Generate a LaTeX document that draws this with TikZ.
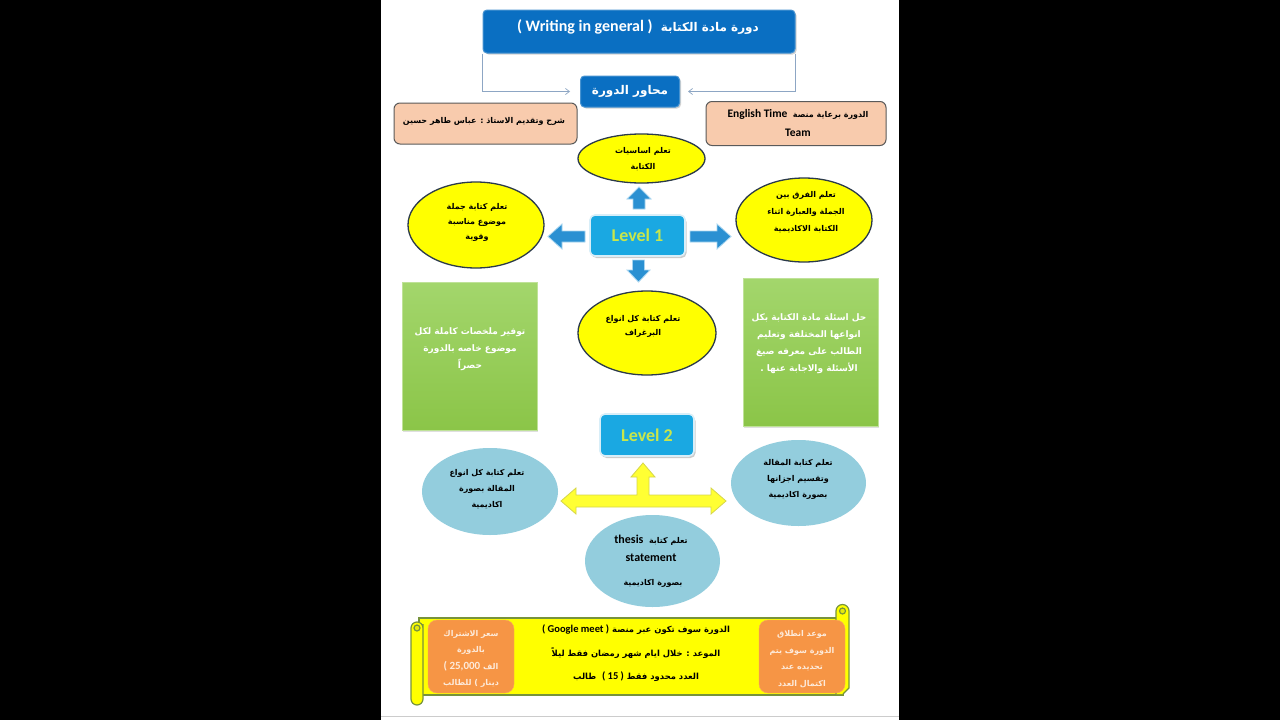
\documentclass[tikz,border=0pt]{standalone}
\usepackage{fontspec}
\setmainfont{Carlito}
\newfontfamily\ar[Script=Arabic]{DejaVu Sans}
\newfontfamily\lat{Carlito}
\TeXXeTstate=1
\usetikzlibrary{shadows,arrows.meta,shapes.geometric}
\definecolor{titleblue}{HTML}{0A6FC2}
\definecolor{linegray}{HTML}{8DA6C4}
\definecolor{peach}{HTML}{F8CBAD}
\definecolor{peachborder}{HTML}{5A5A5A}
\definecolor{ellyellow}{HTML}{FFFF00}
\definecolor{ellborder}{HTML}{2B3A4A}
\definecolor{levelblue}{HTML}{1AA8E2}
\definecolor{levelborder}{HTML}{D8EEF8}
\definecolor{leveltext}{HTML}{C8E64C}
\definecolor{arrblue}{HTML}{2A90D2}
\definecolor{arrborder}{HTML}{A8D5F0}
\definecolor{greenbot}{HTML}{8BC548}
\definecolor{greentop}{HTML}{A3D66C}
\definecolor{lightblue}{HTML}{93CDDD}
\definecolor{arryellow}{HTML}{FFFF33}
\definecolor{arryedge}{HTML}{D6D64A}
\definecolor{scrollgreen}{HTML}{77933C}
\definecolor{orangebox}{HTML}{F69545}
\definecolor{orangetext}{HTML}{FDEADA}
\newcommand\RL[1]{\beginR #1\endR}
\newcommand\LR[2]{{\lat\bfseries\fontsize{#1}{#1}\selectfont #2}}
\begin{document}
\begin{tikzpicture}[x=1pt,y=-1pt,
  titlebox/.style={draw=titleblue!75!white, line width=1pt, fill=titleblue, rounded corners=4pt,
    drop shadow={opacity=0.35,shadow xshift=1.5pt,shadow yshift=-1.5pt}, text=white, inner sep=0},
  peachbox/.style={draw=peachborder, line width=1pt, fill=peach, rounded corners=6pt, inner sep=0},
  yell/.style={ellipse, draw=ellborder, line width=1.3pt, fill=ellyellow, inner sep=0},
  levelbox/.style={rounded corners=5pt, draw=levelborder, line width=1.6pt, fill=levelblue,
    drop shadow={opacity=.4, shadow xshift=1.5pt,shadow yshift=-2pt}, text=leveltext,
    font=\lat\bfseries\fontsize{18}{20}\selectfont, inner sep=0},
  greenbox/.style={top color=greentop, bottom color=greenbot, draw=greentop!70!white, line width=0.8pt,
    drop shadow={opacity=.25, shadow xshift=1pt,shadow yshift=-1.5pt}, inner sep=0},
  bluearr/.style={fill=arrblue, draw=arrborder, line width=0.8pt},
  yelarr/.style={fill=arryellow, draw=arryedge, line width=0.8pt},
  lblue/.style={ellipse, fill=lightblue, inner sep=0},
  scroll/.style={fill=ellyellow, draw=scrollgreen, line width=1.2pt},
  orbox/.style={fill=orangebox, draw=orangebox!85!white, rounded corners=9pt, inner sep=0},
  artxt/.style={font=\ar\bfseries\fontsize{8}{#1}\selectfont, align=center, inner sep=0},
  artxt/.default=17,
  conn/.style={draw=linegray, line width=0.7pt, -{Straight Barb[length=4pt,width=6pt]}}
]
\useasboundingbox (0,0) rectangle (1280,720);
\fill[black] (0,0) rectangle (1280,720);
\fill[white] (381,0) rectangle (899,720);
\draw[black!20, line width=1pt] (381,716) -- (899,716);

% title and axes
\node[titlebox, minimum width=312, minimum height=43] (title) at (639,31.5) {};
\node[text=white, font=\ar\bfseries\fontsize{12}{14}\selectfont, inner sep=0] (titlet) at (638,27)
  {\LR{16}{( Writing in general )}\ \ \RL{دورة مادة الكتابة}};
\node[titlebox, minimum width=99, minimum height=31, font=\ar\bfseries\fontsize{12}{14}\selectfont] (axes) at (630,91.5)
  {\RL{محاور الدورة}};
\draw[conn, shorten >=10pt] (title.south west) |- (axes.west);
\draw[conn, shorten >=8pt] (title.south east) |- (axes.east);

% peach boxes
\node[peachbox, minimum width=183, minimum height=41] (peachL) at (485.5,123.5) {};
\node[artxt] (peachLt) at (484,121) {\RL{شرح وتقديم الاستاذ : عباس طاهر حسين}};
\node[peachbox, minimum width=180, minimum height=44] (peachR) at (796,123.5) {};
\node[artxt=19] (peachRt) at (798,123.5) {\LR{11.5}{English Time}\ \ \RL{الدورة برعاية منصة}\\\LR{11.5}{Team}};

% yellow ellipses
\node[yell, minimum width=127, minimum height=49] (e1) at (641.5,158.5) {};
\node[artxt=16] (e1t) at (643,159) {\RL{تعلم اساسيات}\\\RL{الكتابة}};
\node[yell, minimum width=136, minimum height=86] (e2) at (476,225) {};
\node[artxt=15] (e2t) at (477,222) {\RL{تعلم كتابة جملة}\\\RL{موضوع مناسبة}\\\RL{وقوية}};
\node[yell, minimum width=136, minimum height=84] (e3) at (804,220) {};
\node[artxt=17] (e3t) at (806,212) {\RL{تعلم الفرق بين}\\\RL{الجملة والعبارة اثناء}\\\RL{الكتابة الاكاديمية}};
\node[yell, minimum width=138, minimum height=84] (e4) at (647,333) {};
\node[artxt=14] (e4t) at (643,326) {\RL{تعلم كتابة كل انواع}\\\RL{البرغراف}};

% level 1
\node[levelbox, minimum width=95, minimum height=41] (L1) at (637.5,235.5) {Level 1};
\draw[bluearr] (585,231) -- (562,231) -- (562,224) -- (548,236.5) -- (562,249) -- (562,242) -- (585,242) -- cycle;
\draw[bluearr] (690,231) -- (717,231) -- (717,224) -- (731,236.5) -- (717,249) -- (717,242) -- (690,242) -- cycle;
\draw[bluearr] (633,209) -- (633,199) -- (627,199) -- (639,187) -- (651,199) -- (645,199) -- (645,209) -- cycle;
\draw[bluearr] (632.5,260) -- (632.5,270) -- (627,270) -- (638.5,282) -- (650,270) -- (644.5,270) -- (644.5,260) -- cycle;

% green boxes
\node[greenbox, minimum width=135, minimum height=148] (gL) at (469.5,356) {};
\node[artxt=17, text=white, font=\ar\bfseries\fontsize{9}{17}\selectfont] (gLt) at (470,349)
  {\RL{توفير ملخصات كاملة لكل}\\\RL{موضوع خاصه بالدورة}\\\RL{حصراً}};
\node[greenbox, minimum width=135, minimum height=148] (gR) at (810.5,352) {};
\node[artxt=17, text=white, font=\ar\bfseries\fontsize{9}{17}\selectfont] (gRt) at (809,344)
  {\RL{حل اسئلة مادة الكتابة بكل}\\\RL{انواعها المختلفة وتعليم}\\\RL{الطالب على معرفه صيغ}\\\RL{الأسئلة والاجابة عنها .}};

% level 2
\node[levelbox, minimum width=94, minimum height=42] (L2) at (647,435) {Level 2};
\draw[yelarr] (561,501) -- (576,488) -- (576,495) -- (637,495) -- (637,477) -- (631,477) -- (643,463)
  -- (655,477) -- (649,477) -- (649,495) -- (711,495) -- (711,488) -- (726,501) -- (711,514)
  -- (711,507) -- (576,507) -- (576,514) -- cycle;

% light blue ellipses
\node[lblue, minimum width=136, minimum height=87] (b1) at (490,491.5) {};
\node[artxt=16] (b1t) at (487,489) {\RL{تعلم كتابة كل انواع}\\\RL{المقالة بصورة}\\\RL{اكاديمية}};
\node[lblue, minimum width=135, minimum height=86] (b2) at (798.5,483) {};
\node[artxt=16] (b2t) at (798,479) {\RL{تعلم كتابة المقالة}\\\RL{وتقسيم اجزانها}\\\RL{بصورة اكاديمية}};
\node[lblue, minimum width=135, minimum height=92] (b3) at (652.5,561) {};
\node[artxt=18] (b3ta) at (651,548.5) {\LR{12}{thesis}\ \ \RL{تعلم كتابة}\\\LR{12}{statement}};
\node[artxt] (b3tb) at (653,583) {\RL{بصورة اكاديمية}};

% scroll
\draw[scroll] (419,618) rectangle (843,695);
\draw[scroll] (836,694) -- (836,611) arc[start angle=180, end angle=360, radius=6.5] -- (849,688) -- (843,694);
\draw[scroll, fill=ellyellow!80!scrollgreen] (842.5,611) circle[radius=3];
\draw[scroll] (423,624) -- (423,699) arc[start angle=0, end angle=180, radius=6] -- (411,628)
  arc[start angle=180, end angle=360, radius=6] -- cycle;
\draw[scroll, fill=ellyellow!80!scrollgreen] (417,628) circle[radius=3];

\node[orbox, minimum width=86, minimum height=73] (oL) at (471,656.5) {};
\node[artxt=16.5, text=orangetext] (oLt) at (471,659)
  {\RL{سعر الاشتراك}\\\RL{بالدورة}\\\LR{11}{( 25,000}\ \RL{الف}\\\RL{دينار ) للطالب}};
\node[orbox, minimum width=86, minimum height=73] (oR) at (802,656.5) {};
\node[artxt=16.5, text=orangetext] (oRt) at (802,659)
  {\RL{موعد انطلاق}\\\RL{الدورة سوف يتم}\\\RL{تحديده عند}\\\RL{اكتمال العدد}};

\node[artxt, font=\ar\bfseries\fontsize{8.4}{17}\selectfont] (c1) at (636,630) {\LR{10.5}{( Google meet )}\ \RL{الدورة سوف تكون عبر منصة}};
\node[artxt, font=\ar\bfseries\fontsize{8.4}{17}\selectfont] (c2) at (636,653) {\RL{الموعد : خلال ايام شهر رمضان فقط ليلاً}};
\node[artxt, font=\ar\bfseries\fontsize{8.4}{17}\selectfont] (c3) at (636,677) {\RL{طالب}\ \ \LR{10.5}{( 15 )}\ \RL{العدد محدود فقط}};
\end{tikzpicture}
\end{document}
